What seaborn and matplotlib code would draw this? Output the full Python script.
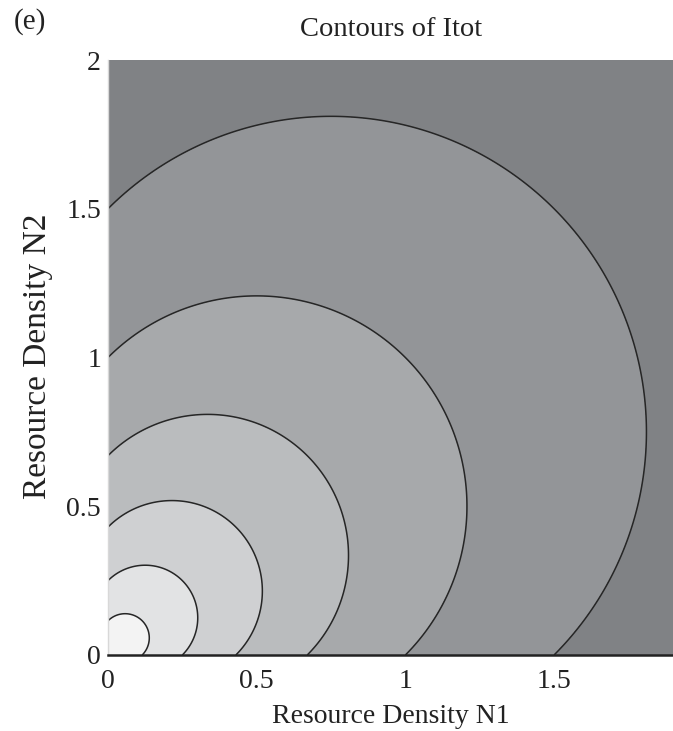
import numpy as np
import matplotlib
matplotlib.use("Agg")
import matplotlib.pyplot as plt
import seaborn as sns

# Contour levels of Itot and the grey used for each band (low -> high)
itot_levels = [0.0, 0.115, 0.25, 0.43, 0.67, 1.0, 1.5, 5.0]
band_greys = ["#f3f3f3", "#e2e3e4", "#cfd0d2", "#babcbe", "#a7a9ab", "#939598", "#808285"]
line_levels = [0.115, 0.25, 0.43, 0.67, 1.0, 1.5]

x_ticks = [0, 0.5, 1, 1.5]
x_tick_labels = ["0", "0.5", "1", "1.5"]
y_ticks = [0, 0.5, 1, 1.5, 2]
y_tick_labels = ["0", "0.5", "1", "1.5", "2"]

sns.set_style("white")
plt.rcParams["font.family"] = ["Liberation Serif", "DejaVu Serif"]

# Resource grid
n1 = np.linspace(1e-4, 1.9, 600)
n2 = np.linspace(1e-4, 2.0, 600)
N1, N2 = np.meshgrid(n1, n2)
Itot = (N1 ** 2 + N2 ** 2) / (N1 + N2)

fig = plt.figure(figsize=(6.73, 7.31), dpi=100)
ax = fig.add_axes([108 / 673, 1 - 655 / 731, 565 / 673, 595 / 731])

ax.contourf(N1, N2, Itot, levels=itot_levels, colors=band_greys)
ax.contour(N1, N2, Itot, levels=line_levels, colors="#262626", linewidths=1.1)

ax.set_xlim(0, 1.9)
ax.set_ylim(0, 2)
ax.set_xticks(x_ticks)
ax.set_xticklabels(x_tick_labels)
ax.set_yticks(y_ticks)
ax.set_yticklabels(y_tick_labels)
ax.tick_params(axis="both", labelsize=20, length=0, colors="#222222")
ax.tick_params(axis="x", pad=10)
ax.tick_params(axis="y", pad=5)

for side in ["top", "right"]:
    ax.spines[side].set_visible(False)
ax.spines["bottom"].set_color("#222222")
ax.spines["bottom"].set_linewidth(1.8)
ax.spines["left"].set_color("#d8d8d8")
ax.spines["left"].set_linewidth(1.0)

ax.set_xlabel("Resource Density N1", fontsize=20, color="#222222", labelpad=7)
ax.set_ylabel("Resource Density N2", fontsize=24, color="#222222")
ax.yaxis.set_label_coords(-0.097, 0.502)

fig.text(391 / 673, 1 - 29 / 731, "Contours of Itot", fontsize=20.5, ha="center", va="center", color="#222222")
fig.text(14 / 673, 1 - 22 / 731, "(e)", fontsize=21, ha="left", va="center", color="#222222")

fig.savefig("out.png", dpi=100, facecolor="white")
